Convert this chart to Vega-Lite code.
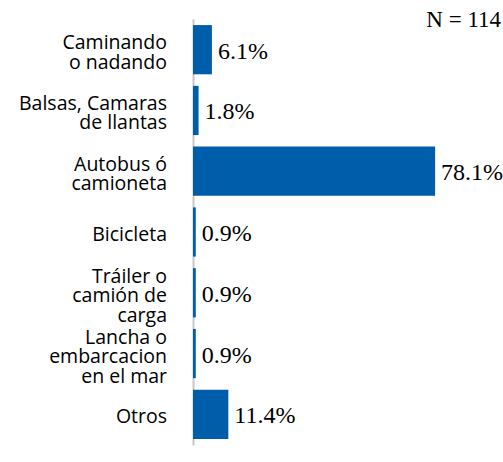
{
  "$schema": "https://vega.github.io/schema/vega-lite/v6.json",
  "autosize": "none",
  "width": 310,
  "height": 426,
  "padding": {"left": 193, "top": 19, "right": 0, "bottom": 17},
  "background": "white",
  "config": {"view": {"stroke": null}},
  "title": {"text": "N = 114", "anchor": "end", "orient": "top", "offset": -31, "baseline": "alphabetic", "font": "Liberation Serif", "fontSize": 23, "fontWeight": "normal", "color": "black", "dx": -2},
  "data": {"values": [
    {"cat": "Caminando|o nadando", "pct": 0.061},
    {"cat": "Balsas, Camaras|de llantas", "pct": 0.018},
    {"cat": "Autobus ó|camioneta", "pct": 0.781},
    {"cat": "Bicicleta", "pct": 0.009},
    {"cat": "Tráiler o|camión de|carga", "pct": 0.009},
    {"cat": "Lancha o|embarcacion|en el mar", "pct": 0.009},
    {"cat": "Otros", "pct": 0.114}
  ]},
  "encoding": {
    "y": {"field": "cat", "type": "nominal", "sort": null,
      "scale": {"paddingInner": 0.19, "paddingOuter": 0.1},
      "axis": {"title": null, "ticks": false, "labels": false, "domainColor": "#c8c8c8", "domainWidth": 2}},
    "x": {"field": "pct", "type": "quantitative", "scale": {"domain": [0, 1]}, "axis": null}
  },
  "layer": [
    {"mark": {"type": "bar", "color": "#005DA9"}},
    {"mark": {"type": "text", "align": "left", "baseline": "middle", "dx": 6, "dy": 2, "font": "Liberation Serif", "fontSize": 24, "color": "black"},
     "encoding": {"text": {"field": "pct", "type": "quantitative", "format": ".1%"}}},
    {"mark": {"type": "text", "align": "right", "baseline": "middle", "dx": -26, "dy": {"expr": "3 - (length(split(datum.cat, '|')) - 1) * 9.5"}, "lineBreak": "|", "lineHeight": 19.5, "font": "Open Sans", "fontSize": 19.5, "color": "black"},
     "encoding": {"x": {"datum": 0}, "text": {"field": "cat"}}}
  ]
}
